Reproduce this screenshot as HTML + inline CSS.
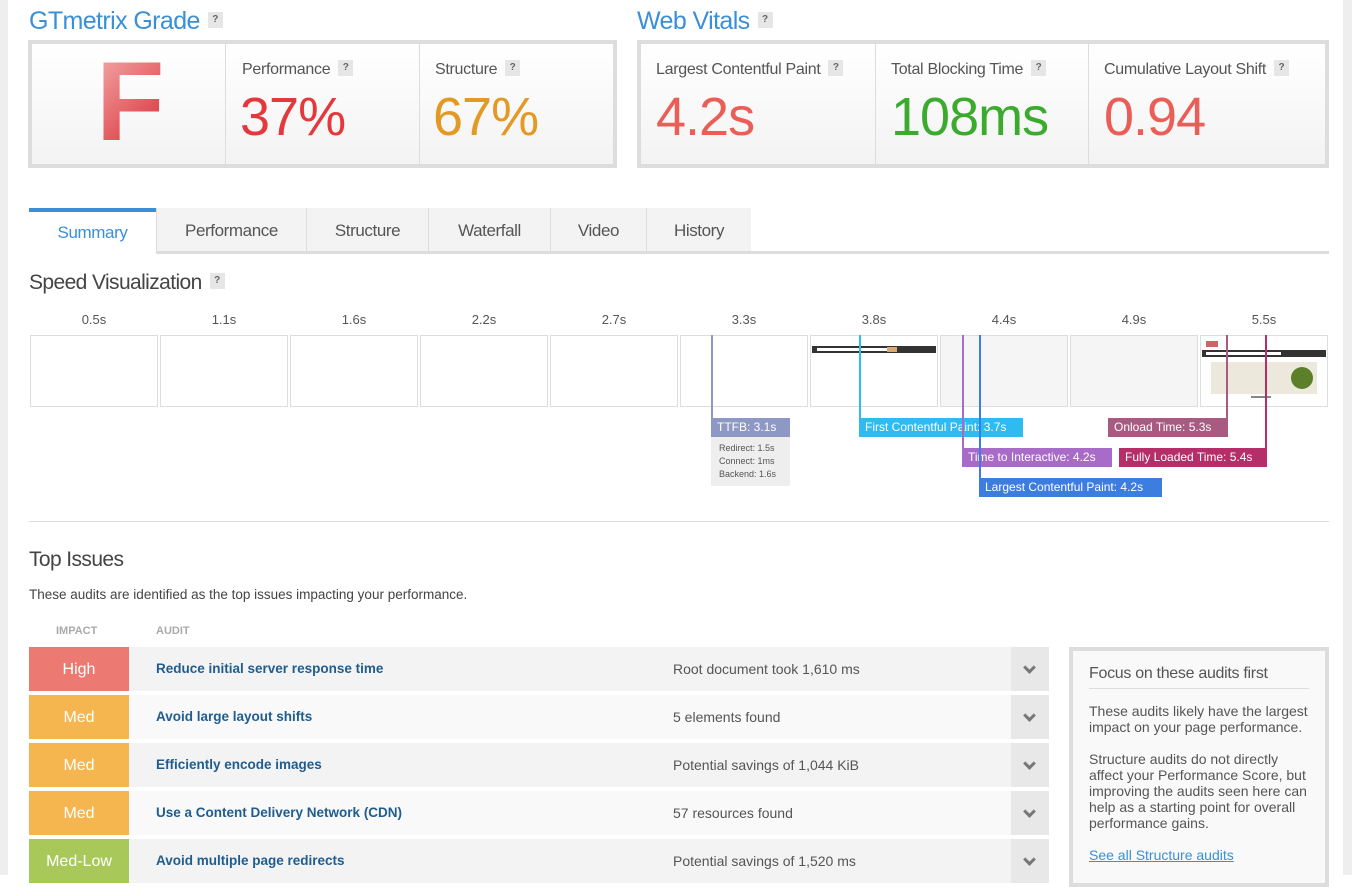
<!DOCTYPE html>
<html><head><meta charset="utf-8"><style>
body{margin:0;width:1352px;height:875px;overflow:hidden;background:#fff;position:relative;font-family:"Liberation Sans",sans-serif;color:#444}
.a{position:absolute;white-space:nowrap}
.q{display:inline-block;vertical-align:middle;width:15px;height:16px;background:#e6e6e6;color:#666;font:bold 10px "Liberation Sans",sans-serif;text-align:center;line-height:16px;letter-spacing:0;margin-left:8px;position:relative;top:-2px}
.h{position:absolute;white-space:nowrap;font-size:23px;letter-spacing:-0.6px}
.box{position:absolute;border:4px solid #ddd;background:linear-gradient(#fff,#f3f3f3);box-sizing:border-box}
.cell{position:absolute;top:0;bottom:0;border-left:1px solid #ddd}
.lbl{position:absolute;top:17px;font-size:16px;letter-spacing:-0.3px;color:#555;white-space:nowrap}
.big{position:absolute;top:42px;font-size:54px;letter-spacing:-1px;white-space:nowrap}
.tab{position:absolute;top:208px;height:43px;background:#f3f3f3;border-left:1px solid #ddd;font-size:17px;letter-spacing:-0.4px;color:#555;text-align:center;line-height:45px;box-sizing:border-box}
.tl{position:absolute;top:312px;font-size:13px;color:#555;width:128px;text-align:center}
.fr{position:absolute;top:335px;width:126px;height:70px;border:1px solid #ddd;background:#fff}
.vl{position:absolute;width:2px}
.mk{position:absolute;height:19px;color:#fff;font-size:12px;line-height:19px;padding:0 6px;box-sizing:border-box;white-space:nowrap}
.row{position:absolute;left:29px;width:1020px;height:44px}
.imp{position:absolute;left:0;top:0;width:100px;height:44px;color:#fff;font-size:16px;text-align:center;line-height:46px}
.au{position:absolute;left:127px;top:14px;font:bold 13.5px "Liberation Sans",sans-serif;color:#1f5c8f;white-space:nowrap}
.dt{position:absolute;left:644px;top:14px;font:14px "Liberation Sans",sans-serif;color:#555;white-space:nowrap}
.ch{position:absolute;right:0;top:0;width:38px;height:44px;background:#e8e8e8}
.ch:after{content:"";position:absolute;left:14px;top:16px;width:6px;height:6px;border-right:3px solid #777;border-bottom:3px solid #777;transform:rotate(45deg)}
</style></head><body>
<div class="a" style="left:0;top:0;width:8px;height:875px;background:#eee"></div>
<div class="a" style="left:1343px;top:0;width:9px;height:875px;background:#eee"></div>

<div class="h" style="left:29px;top:7px;color:#3a8fd9;font-size:25px">GTmetrix Grade<span class="q">?</span></div>
<div class="h" style="left:637px;top:7px;color:#3a8fd9;font-size:25px">Web Vitals<span class="q">?</span></div>

<div class="box" style="left:28px;top:40px;width:589px;height:128px">
 <div class="a" style="left:64px;top:-2px;font-size:112px;font-weight:bold;line-height:120px;background:linear-gradient(135deg,#f6b4b4,#d41c24);-webkit-background-clip:text;background-clip:text;color:transparent">F</div>
 <div class="cell" style="left:193px;width:194px"><div class="lbl" style="left:16px">Performance<span class="q">?</span></div><div class="big" style="left:14px;color:#e5383c">37%</div></div>
 <div class="cell" style="left:387px;width:194px"><div class="lbl" style="left:15px">Structure<span class="q">?</span></div><div class="big" style="left:13px;color:#e39a24">67%</div></div>
</div>

<div class="box" style="left:637px;top:40px;width:692px;height:128px">
 <div class="a" style="left:0;top:0;width:234px;height:120px"><div class="lbl" style="left:15px">Largest Contentful Paint<span class="q">?</span></div><div class="big" style="left:15px;color:#ea5e57">4.2s</div></div>
 <div class="cell" style="left:234px;width:213px"><div class="lbl" style="left:15px">Total Blocking Time<span class="q">?</span></div><div class="big" style="left:15px;color:#3aab2c">108ms</div></div>
 <div class="cell" style="left:447px;width:237px"><div class="lbl" style="left:15px">Cumulative Layout Shift<span class="q">?</span></div><div class="big" style="left:15px;color:#ea5e57">0.94</div></div>
</div>

<div class="a" style="left:156px;top:251px;width:1173px;height:3px;background:#ddd"></div>
<div class="a" style="left:29px;top:208px;width:127px;height:46px;background:#fff;border-top:4px solid #3a8fd9;box-sizing:border-box;color:#3a8fd9;font-size:17px;letter-spacing:-0.4px;text-align:center;line-height:42px">Summary</div>
<div class="tab" style="left:156px;width:150px">Performance</div>
<div class="tab" style="left:306px;width:122px">Structure</div>
<div class="tab" style="left:428px;width:122px">Waterfall</div>
<div class="tab" style="left:550px;width:96px">Video</div>
<div class="tab" style="left:646px;width:105px">History</div>

<div class="h" style="left:29px;top:271px;font-size:21px">Speed Visualization<span class="q">?</span></div>

<div class="tl" style="left:30px">0.5s</div><div class="tl" style="left:160px">1.1s</div><div class="tl" style="left:290px">1.6s</div><div class="tl" style="left:420px">2.2s</div><div class="tl" style="left:550px">2.7s</div><div class="tl" style="left:680px">3.3s</div><div class="tl" style="left:810px">3.8s</div><div class="tl" style="left:940px">4.4s</div><div class="tl" style="left:1070px">4.9s</div><div class="tl" style="left:1200px">5.5s</div>

<div class="fr" style="left:30px"></div><div class="fr" style="left:160px"></div><div class="fr" style="left:290px"></div><div class="fr" style="left:420px"></div><div class="fr" style="left:550px"></div><div class="fr" style="left:680px"></div>
<div class="fr" style="left:810px"><div class="a" style="left:1px;top:10px;width:124px;height:7px;background:#333"></div><div class="a" style="left:6px;top:12px;width:80px;height:3px;background:#fff"></div><div class="a" style="left:76px;top:11px;width:10px;height:5px;background:#d9a877"></div></div>
<div class="fr" style="left:940px;background:#f5f5f5"></div>
<div class="fr" style="left:1070px;background:#f5f5f5"></div>
<div class="fr" style="left:1200px"><div class="a" style="left:5px;top:5px;width:12px;height:6px;background:#c66"></div><div class="a" style="left:1px;top:14px;width:124px;height:7px;background:#333"></div><div class="a" style="left:5px;top:16px;width:75px;height:3px;background:#fff"></div><div class="a" style="left:10px;top:26px;width:106px;height:32px;background:#ece9dc"></div><div class="a" style="left:90px;top:31px;width:22px;height:22px;border-radius:11px;background:#5c7f2a"></div><div class="a" style="left:50px;top:60px;width:20px;height:2px;background:#888"></div></div>

<div class="vl" style="left:711px;top:335px;height:84px;background:#8d98c4"></div>
<div class="mk" style="left:711px;top:418px;width:79px;background:#8d98c4">TTFB: 3.1s</div>
<div class="a" style="left:711px;top:437px;width:79px;height:49px;background:#eee;font:9px 'Liberation Sans',sans-serif;color:#555;line-height:13px;padding:5px 0 0 8px;box-sizing:border-box">Redirect: 1.5s<br>Connect: 1ms<br>Backend: 1.6s</div>
<div class="vl" style="left:859px;top:335px;height:84px;background:#2fbbef"></div>
<div class="mk" style="left:859px;top:418px;width:164px;background:#2fbbef">First Contentful Paint: 3.7s</div>
<div class="vl" style="left:962px;top:335px;height:114px;background:#a86bc7"></div>
<div class="mk" style="left:962px;top:448px;width:150px;background:#a86bc7">Time to Interactive: 4.2s</div>
<div class="vl" style="left:979px;top:335px;height:144px;background:#3e7de0"></div>
<div class="mk" style="left:979px;top:478px;width:183px;background:#3e7de0">Largest Contentful Paint: 4.2s</div>
<div class="vl" style="left:1226px;top:335px;height:84px;background:#a85a80"></div>
<div class="mk" style="left:1108px;top:418px;width:120px;background:#a85a80">Onload Time: 5.3s</div>
<div class="vl" style="left:1265px;top:335px;height:114px;background:#b52e6a"></div>
<div class="mk" style="left:1119px;top:448px;width:148px;background:#b52e6a">Fully Loaded Time: 5.4s</div>

<div class="a" style="left:29px;top:521px;width:1300px;height:1px;background:#ddd"></div>
<div class="h" style="left:29px;top:548px;font-size:21px">Top Issues</div>
<div class="a" style="left:29px;top:587px;font-size:13.5px;color:#444">These audits are identified as the top issues impacting your performance.</div>
<div class="a" style="left:56px;top:625px;font:bold 11px 'Liberation Sans',sans-serif;color:#aaa">IMPACT</div>
<div class="a" style="left:156px;top:625px;font:bold 11px 'Liberation Sans',sans-serif;color:#aaa">AUDIT</div>

<div class="row" style="top:647px;background:#f3f3f3"><div class="imp" style="background:#ec7a72">High</div><div class="au">Reduce initial server response time</div><div class="dt">Root document took 1,610 ms</div><div class="ch"></div></div>
<div class="row" style="top:695px;background:#f9f9f9"><div class="imp" style="background:#f5b650">Med</div><div class="au">Avoid large layout shifts</div><div class="dt">5 elements found</div><div class="ch"></div></div>
<div class="row" style="top:743px;background:#f3f3f3"><div class="imp" style="background:#f5b650">Med</div><div class="au">Efficiently encode images</div><div class="dt">Potential savings of 1,044 KiB</div><div class="ch"></div></div>
<div class="row" style="top:791px;background:#f9f9f9"><div class="imp" style="background:#f5b650">Med</div><div class="au">Use a Content Delivery Network (CDN)</div><div class="dt">57 resources found</div><div class="ch"></div></div>
<div class="row" style="top:839px;background:#f3f3f3"><div class="imp" style="background:#a8c95a">Med-Low</div><div class="au">Avoid multiple page redirects</div><div class="dt">Potential savings of 1,520 ms</div><div class="ch"></div></div>

<div class="a" style="left:1069px;top:647px;width:260px;height:240px;border:4px solid #ddd;background:#f9f9f9;box-sizing:border-box">
 <div class="a" style="left:16px;top:14px;font-size:16px;letter-spacing:-0.3px;color:#555">Focus on these audits first</div>
 <div class="a" style="left:16px;top:37px;width:220px;height:1px;background:#ddd"></div>
 <div class="a" style="left:16px;top:52px;width:226px;white-space:normal;font:14px/16px 'Liberation Sans',sans-serif;color:#555">These audits likely have the largest impact on your page performance.<br><br>Structure audits do not directly affect your Performance Score, but improving the audits seen here can help as a starting point for overall performance gains.<br><br><span style="color:#3a8fd9;text-decoration:underline">See all Structure audits</span></div>
</div>
</body></html>
